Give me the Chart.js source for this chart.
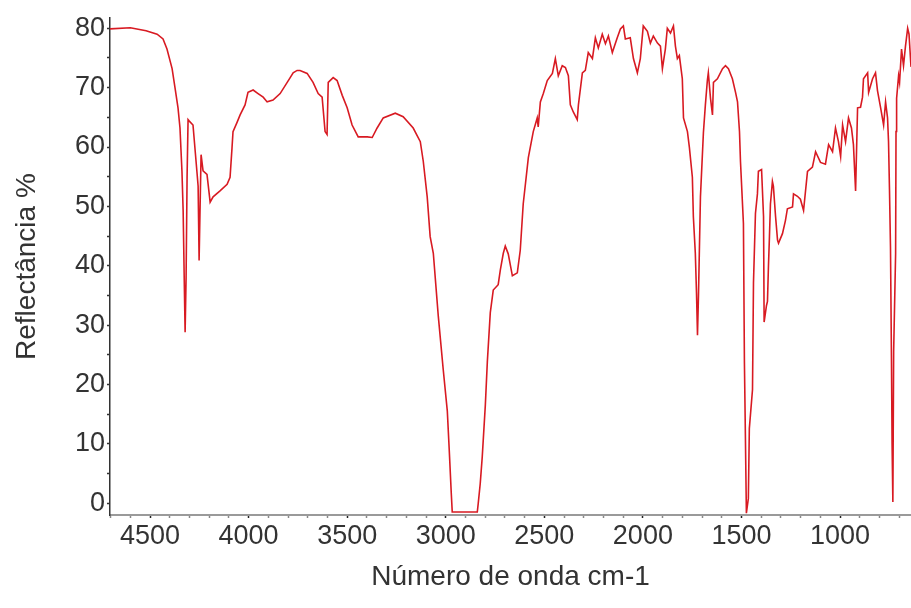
<!DOCTYPE html>
<html><head><meta charset="utf-8">
<script src="https://cdn.jsdelivr.net/npm/chart.js@4.4.1/dist/chart.umd.min.js"></script>
<style>html,body{margin:0;padding:0;background:#fff}#wrap{width:911px;height:608px}</style>
</head><body><div id="wrap"><canvas id="c" width="911" height="608"></canvas></div>
<script>
const wavenumber = [4703,4600,4520,4464,4434,4414,4388,4373,4358,4348,4338,4332,4327,4322,4317,4312,4307,4302,4282,4261,4256,4251,4246,4241,4231,4211,4195,4180,4145,4109,4094,4084,4079,4058,4043,4018,4003,3977,3952,3926,3906,3876,3840,3789,3774,3754,3739,3703,3673,3647,3627,3612,3602,3596,3571,3551,3525,3500,3475,3444,3398,3373,3348,3317,3256,3216,3165,3129,3114,3094,3079,3063,3038,3013,2992,2982,2972,2967,2840,2835,2825,2815,2799,2789,2774,2759,2734,2723,2708,2698,2683,2662,2637,2622,2607,2581,2556,2536,2531,2520,2505,2485,2459,2444,2429,2409,2393,2378,2368,2353,2333,2327,2307,2292,2277,2256,2241,2226,2206,2190,2175,2155,2130,2114,2099,2089,2064,2048,2028,2013,1998,1977,1962,1947,1926,1911,1901,1886,1876,1860,1845,1835,1825,1815,1800,1794,1774,1764,1749,1744,1734,1728,1723,1718,1708,1693,1683,1673,1668,1657,1647,1642,1622,1596,1581,1566,1546,1530,1520,1510,1505,1490,1485,1480,1475,1465,1460,1444,1439,1429,1419,1414,1398,1388,1385,1373,1368,1363,1358,1353,1343,1338,1327,1317,1312,1292,1277,1267,1241,1236,1216,1201,1185,1165,1140,1124,1099,1074,1058,1038,1023,1008,997,987,972,957,942,932,921,911,896,886,881,860,855,835,820,810,794,779,769,759,754,749,744,739,736,732,728,718,716,713,703,698,688,678,668,657,650,640];
const reflectance = [79.9,80.1,79.6,79.0,78.2,76.5,73.2,69.9,66.6,63.2,55.9,49.3,38.8,28.8,38.0,55.0,64.6,64.4,63.7,55.4,53.4,40.9,50.0,58.7,56.0,55.4,50.7,51.6,52.6,53.7,54.9,59.9,62.6,64.2,65.4,67.1,69.2,69.6,69.0,68.4,67.6,67.9,69.0,71.7,72.5,72.9,72.9,72.4,70.9,69.0,68.4,62.6,62.1,70.9,71.7,71.2,68.7,66.6,63.7,61.7,61.7,61.6,63.2,64.9,65.7,65.1,63.2,60.9,57.6,51.6,44.9,42.1,31.6,22.6,15.5,8.8,1.7,-1.5,-1.5,0.0,3.3,7.7,16.6,23.8,32.1,35.9,36.8,39.3,42.1,43.3,42.0,38.3,38.8,42.6,50.4,58.2,62.6,64.9,63.4,67.6,69.0,71.2,72.4,74.9,72.0,73.7,73.4,72.0,67.1,65.9,64.6,67.1,72.5,72.9,75.9,74.9,78.4,76.7,79.0,77.4,78.7,75.9,78.4,79.9,80.4,78.2,78.4,74.9,72.5,74.9,80.4,79.5,77.5,78.7,77.5,77.0,73.2,76.5,80.0,79.2,80.4,77.0,74.9,75.4,71.5,64.9,62.6,59.9,54.9,48.3,42.1,35.4,28.3,35.0,51.6,62.4,67.1,71.2,72.5,68.2,65.4,70.9,71.5,73.2,73.7,73.2,71.5,69.2,67.6,62.6,57.6,47.1,23.8,11.3,-1.7,0.8,12.6,19.1,37.1,48.8,52.1,55.9,56.2,48.3,30.5,33.3,34.0,40.0,44.9,50.4,54.2,53.4,48.3,44.3,43.8,45.4,47.6,49.6,49.9,52.1,51.7,51.2,49.3,55.9,56.6,59.2,57.4,57.1,60.4,59.2,63.2,60.9,58.4,63.7,60.9,64.9,63.2,60.4,52.6,66.6,66.7,68.4,71.5,72.5,69.2,71.5,72.5,69.5,66.6,63.7,67.6,64.9,60.9,52.6,43.0,23.8,10.1,0.2,25.5,42.1,62.6,68.2,72.0,70.9,76.5,73.7,77.0,80.0,79.0,73.5];
const xTickLabels = [4500,4000,3500,3000,2500,2000,1500,1000];
const yTickLabels = [0,10,20,30,40,50,60,70,80];
const xMinorStep = 100;
const yMinorStep = 5;
const xTitle = 'Número de onda cm-1';
const yTitle = 'Reflectância %';

const FONT = "'Liberation Sans', Arial, sans-serif";
const points = wavenumber.map((w, i) => ({x: w, y: reflectance[i]}));

new Chart(document.getElementById('c'), {
  type: 'line',
  data: { datasets: [{
    data: points,
    borderColor: '#d81a22',
    borderWidth: 1.6,
    pointRadius: 0,
    tension: 0,
    fill: false
  }]},
  options: {
    responsive: false,
    devicePixelRatio: 1,
    animation: false,
    layout: { padding: { top: 12, right: 0, left: 0, bottom: 0 } },
    plugins: { legend: { display: false }, tooltip: { enabled: false } },
    scales: {
      x: {
        type: 'linear',
        reverse: true,
        min: 640,
        max: 4703,
        afterBuildTicks: s => {
          const t = [];
          for (let v = 4700; v >= 700; v -= xMinorStep) t.push({ value: v });
          s.ticks = t;
        },
        afterFit: s => { s.height = 93; },
        ticks: {
          autoSkip: false, maxRotation: 0, padding: 2,
          color: '#333',
          font: { family: FONT, size: 27 },
          callback: v => xTickLabels.includes(v) ? String(v) : ''
        },
        grid: {
          drawOnChartArea: false, drawTicks: true, tickLength: 3,
          color: c => xTickLabels.includes(c.tick && c.tick.value) ? '#222' : '#888',
          tickWidth: 1.5
        },
        border: { display: true, color: '#9a9a9a', width: 2, dash: [3, 1] },
        title: { display: true, text: xTitle, color: '#333', font: { family: FONT, size: 28 }, padding: { top: 4, bottom: 14 } }
      },
      y: {
        type: 'linear',
        min: -2,
        max: 81.7,
        afterBuildTicks: s => {
          const t = [];
          for (let v = 0; v <= 80; v += yMinorStep) t.push({ value: v });
          s.ticks = t;
        },
        afterFit: s => { s.width = 110; },
        ticks: {
          autoSkip: false, padding: 2,
          color: '#333',
          font: { family: FONT, size: 27 },
          callback: v => yTickLabels.includes(v) ? String(v) : ''
        },
        grid: {
          drawOnChartArea: false, drawTicks: true, tickLength: 3,
          color: '#333', tickWidth: 1.5
        },
        border: { display: true, color: '#333', width: 1.5, dash: [1, 2] },
        title: { display: true, text: yTitle, color: '#333', font: { family: FONT, size: 28 }, padding: { top: 10, bottom: 4 } }
      }
    }
  }
});
</script>
</body></html>
